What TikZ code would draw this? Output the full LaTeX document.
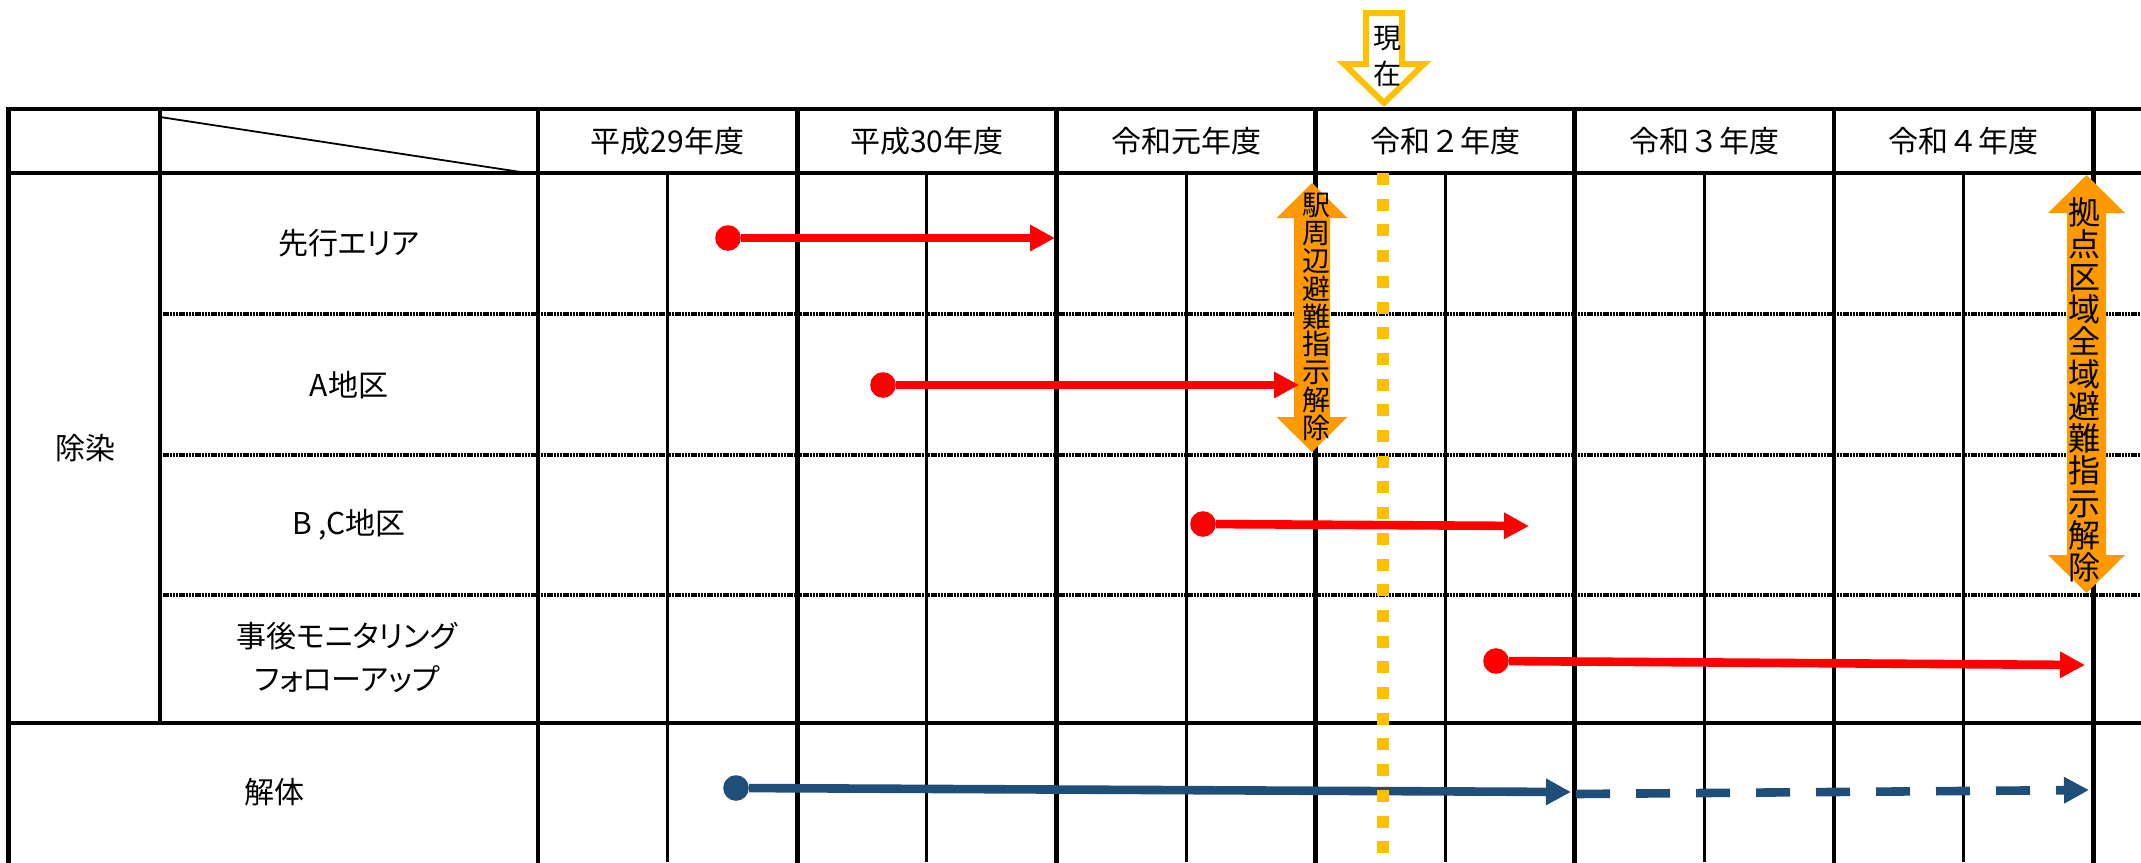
\documentclass[tikz,border=0pt]{standalone}
\usepackage{fontspec}
\setmainfont{Noto Sans CJK JP}
\newfontfamily\kana{Noto Sans CJK JP}[RawFeature=+palt]
\usetikzlibrary{arrows.meta}
\definecolor{naranja}{RGB}{255,153,0}
\definecolor{oro}{RGB}{255,192,0}
\definecolor{azul}{RGB}{31,78,121}

\begin{document}
\begin{tikzpicture}[x=0.5pt, y=-0.5pt,
    gridline/.style={line width=2.4pt, line cap=rect},
    halfline/.style={line width=1.5pt},
    rowline/.style={line width=1.6pt, dash pattern=on 1.2pt off 0.4pt},
    cell/.style={font=\fontsize{15pt}{21.5pt}\selectfont, align=center, inner sep=0pt},
    kanacell/.style={cell, font=\kana\fontsize{15pt}{21.5pt}\selectfont},
    startdot/.style={circle, fill=#1, minimum size=12.8pt, inner sep=0pt},
    plan/.style={draw=#1, line width=4.3pt, -{Triangle[length=12.5pt, width=12.5pt]}},
    release/.style={align=center, inner sep=0pt}]
          \useasboundingbox (0,0) rectangle (2141,862);

          % Tabla
          \draw[gridline] (8.7,109) -- (2141,109);
          \draw[gridline] (8.7,173) -- (2141,173);
          \draw[gridline] (8.7,723) -- (2141,723);
          \foreach \y in {314,455,595}
            \draw[rowline] (160,\y) -- (2141,\y);
          \draw[gridline] (8.7,109) -- (8.7,862);
          \draw[gridline] (160,109) -- (160,723);
          \foreach \i in {0,...,6}
            \draw[gridline] (538+259.2*\i,109) -- (538+259.2*\i,862);
          \foreach \i in {0,...,5}
            \draw[halfline] (667.6+259.2*\i,173) -- (667.6+259.2*\i,862);
          \draw[line width=0.9pt] (160,117) -- (527,173);

          % Encabezados
          \foreach \i/\yr in {0/平成29年度, 1/平成30年度, 2/令和元年度, 3/令和２年度, 4/令和３年度, 5/令和４年度}
            \node[cell] (year\i) at (667.6+259.2*\i,141) {\yr};
          \node[kanacell] (sakou) at (349,243) {先行エリア};
          \node[cell] (chikuA) at (349,385) {A地区};
          \node[cell] (chikuBC) at (349,525) {B ,C地区};
          \node[kanacell] (jigo) at (347,658) {事後モニタリング\\フォローアップ};
          \node[cell] (josen) at (85,448) {除染};
          \node[cell] (kaitai) at (274,792) {解体};

          % Ahora
          \draw[line width=3pt, draw=oro, fill=white, line join=miter]
            (1366,13) -- (1402,13) -- (1402,64) -- (1424,64) -- (1384,103)
            -- (1344,64) -- (1366,64) -- cycle;
          \node[release, font=\fontsize{14pt}{18pt}\selectfont] (genzai) at (1387,56) {現\\在};

          % Levantamiento
          \fill[naranja] (1312,183) -- (1347.5,218) -- (1330,218) -- (1330,417)
            -- (1347.5,417) -- (1312,452) -- (1276.5,417) -- (1294,417)
            -- (1294,218) -- (1276.5,218) -- cycle;
          \node[release, font=\fontsize{14pt}{13.95pt}\selectfont] (ekikaijo) at (1316,317)
            {駅\\周\\辺\\避\\難\\指\\示\\解\\除};
          \fill[naranja] (2086.5,175) -- (2125,213) -- (2106,213) -- (2106,555)
            -- (2125,555) -- (2086.5,593) -- (2048,555) -- (2067,555)
            -- (2067,213) -- (2048,213) -- cycle;
          \node[release, font=\fontsize{16pt}{16.15pt}\selectfont] (zenkaijo) at (2084,390)
            {拠\\点\\区\\域\\全\\域\\避\\難\\指\\示\\解\\除};

          % Flechas
          \node[startdot=red] (d1) at (728,238) {};
          \node[startdot=red] (d2) at (883,385) {};
          \node[startdot=red] (d3) at (1203,524) {};
          \node[startdot=red] (d4) at (1496,661) {};
          \coordinate (e1) at (1055,238);
          \coordinate (e2) at (1299,385);
          \coordinate (e3) at (1529,526);
          \coordinate (e4) at (2085,665);
          \draw[plan=red] (d1) -- (e1);
          \draw[plan=red] (d2) -- (e2);
          \draw[plan=red] (d3) -- (e3);
          \draw[plan=red] (d4) -- (e4);

          \node[startdot=azul] (b0) at (736,788) {};
          \coordinate (b1) at (1571,792);
          \coordinate (b2) at (1576,794);
          \coordinate (b3) at (2089,790);
          \draw[plan=azul] (b0) -- (b1);
          \draw[plan=azul, dash pattern=on 17pt off 13pt] (b2) -- (b3);

          % Hoy
          \draw[oro, line width=6pt, dash pattern=on 6pt off 6.85pt] (1383,173) -- (1383,862);

        \end{tikzpicture}
\end{document}
